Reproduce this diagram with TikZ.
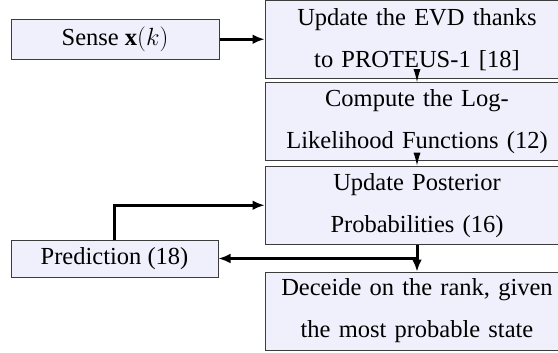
\documentclass[tikz,border=0pt]{standalone}
\usepackage{fontspec}
\setmainfont{Liberation Serif}
\usetikzlibrary{arrows.meta}
\definecolor{boxfill}{RGB}{240,240,252}
\definecolor{boxline}{RGB}{60,60,60}
\begin{document}
\begin{tikzpicture}[x=1pt,y=-1pt,
  font=\fontsize{24.5}{42}\selectfont,
  blk/.style={draw=boxline,line width=1pt,fill=boxfill,inner sep=0pt,align=center},
  wide/.style={blk,minimum width=304pt,text width=300pt,minimum height=78pt},
  small/.style={blk,minimum width=#1},
  thickarrow/.style={-{Latex[length=12pt,width=10pt]},line width=3pt},
  thinarrow/.style={-{Latex[length=13pt,width=7pt]},line width=1pt}]
\useasboundingbox (0,0) rectangle (558,353);
\clip (0,0) rectangle (558,353);
\node[wide] (evd) at (417,39.25) {Update the EVD thanks\\to PROTEUS-1 [18]};
\node[wide] (llf) at (417,121.75) {Compute the Log-\\Likelihood Functions (12)};
\node[wide] (post) at (417,205.25) {Update Posterior\\Probabilities (16)};
\node[wide] (dec) at (417,311) {Deceide on the rank, given\\the most probable state};
\node[small=208pt,minimum height=40pt] (sense) at (115,39.25) {Sense $\mathbf{x}(k)$};
\node[small=207pt,minimum height=37pt] (pred) at (114.5,258.5) {Prediction (18)};
\coordinate (jn) at (post.south |- pred.east);
\draw[thickarrow] (sense.east) -- (evd.west);
\draw[thinarrow] (evd.south) -- (llf.north);
\draw[thinarrow] (llf.south) -- (post.north);
\draw[thickarrow] (post.south) -- (dec.north);
\draw[thickarrow] (jn) -- (pred.east);
\draw[thickarrow] (pred.north) |- (post.west);
\end{tikzpicture}
\end{document}
